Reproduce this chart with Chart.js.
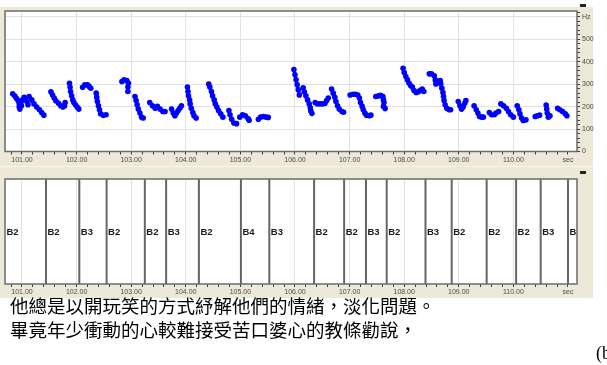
<!DOCTYPE html>
<html>
<head>
<meta charset="utf-8">
<script src="https://cdn.jsdelivr.net/npm/chart.js@4"></script>
<style>
  html, body { margin: 0; padding: 0; background: #fff; width: 607px; height: 365px; overflow: hidden; position: relative; }
  canvas { position: absolute; left: 0; }
  #pitchCanvas { top: 0; }
  #tierCanvas { top: 168px; }
  .caption { position: absolute; left: 10px; font-family: "Noto Sans CJK TC", "Noto Sans CJK SC", sans-serif; font-size: 18.5px; line-height: 1; color: #000; white-space: nowrap; }
  .fig { position: absolute; font-family: "Liberation Serif", serif; font-size: 17px; line-height: 17px; color: #000; white-space: nowrap; }
  .btn { position: absolute; width: 6px; height: 3px; background: #222; }
</style>
</head>
<body>
<div class="fig" style="left:296px; top:-14px;">(a)</div>
<canvas id="pitchCanvas" width="607" height="168"></canvas>
<canvas id="tierCanvas" width="607" height="130"></canvas>
<div class="btn" style="left:580px; top:4px;"></div>
<div class="btn" style="left:580px; top:171px;"></div>
<div class="caption" style="top:296px;">他總是以開玩笑的方式紓解他們的情緒，淡化問題。</div>
<div class="caption" style="top:320px;">畢竟年少衝動的心較難接受苦口婆心的教條勸說，</div>
<div class="fig" style="left:596px; top:344px; font-size:18px; line-height:18px;">(b)</div>

<script>
// ---- time axis (seconds) ----
const timeRange = [100.689, 111.165];
const secondTicks = [101, 102, 103, 104, 105, 106, 107, 108, 109, 110];
const timeUnitLabel = 'sec';
const timeUnitAt = 111;

// ---- frequency axis (Hz) ----
const hzRange = [0, 626];
const hzTicks = [0, 100, 200, 300, 400, 500];
const hzUnitLabel = 'Hz';
const hzUnitAt = 600;

// ---- pitch track: voiced stretches of [time s, F0 Hz] ----
const pitchTrack = [
  [[100.83,257],[100.87,247],[100.90,236],[100.93,226],[100.95,212],[100.95,198],[100.96,189],[100.99,204],[101.01,230],[101.04,242],[101.06,236],[101.09,223],[101.11,208]],
  [[101.13,245],[101.18,230],[101.22,212],[101.27,198],[101.32,186],[101.36,174],[101.40,162]],
  [[101.53,266],[101.56,252],[101.59,238],[101.62,226],[101.67,215],[101.71,204],[101.75,198],[101.78,204],[101.79,218]],
  [[101.87,304],[101.88,287],[101.89,267],[101.91,248],[101.93,230],[101.95,218],[101.98,208],[102.01,198],[102.04,189]],
  [[102.11,286],[102.15,297],[102.20,297],[102.23,290],[102.26,282]],
  [[102.36,260],[102.37,241],[102.38,223],[102.40,204],[102.42,186],[102.44,168],[102.49,161],[102.54,164]],
  [[102.83,312],[102.87,319],[102.92,316],[102.95,304],[102.94,287]],
  [[102.94,267]],
  [[103.07,245],[103.09,227],[103.11,208],[103.13,189],[103.16,171],[103.19,153],[103.22,149]],
  [[103.34,218],[103.39,204],[103.44,193],[103.48,201],[103.53,189],[103.58,178],[103.62,178]],
  [[103.74,189],[103.77,171],[103.80,159],[103.83,171],[103.86,183],[103.89,193],[103.92,204]],
  [[104.03,287],[104.04,267],[104.05,248],[104.07,230],[104.08,212],[104.10,193],[104.13,174],[104.15,159],[104.19,149]],
  [[104.42,301],[104.44,287],[104.47,267],[104.49,248],[104.52,230],[104.54,212],[104.57,198],[104.60,183],[104.64,168],[104.68,153]],
  [[104.79,183],[104.81,164],[104.84,144],[104.88,127],[104.93,124]],
  [[104.99,153],[105.04,164],[105.09,159],[105.14,147],[105.16,139]],
  [[105.33,144],[105.37,153],[105.42,156],[105.47,153],[105.51,152]],
  [[105.98,365],[106.00,342],[106.02,320],[106.04,297],[106.06,275],[106.08,252]],
  [[106.15,284],[106.17,266],[106.20,248],[106.23,230],[106.26,212],[106.28,195],[106.29,181],[106.31,170]],
  [[106.37,218],[106.41,212],[106.46,212],[106.51,212],[106.55,215],[106.58,227],[106.61,238]],
  [[106.67,278],[106.70,260],[106.73,242],[106.75,223],[106.78,204],[106.81,189],[106.86,178],[106.89,175]],
  [[107.01,252],[107.06,255],[107.11,255],[107.15,252],[107.18,238],[107.20,218],[107.23,201],[107.25,186],[107.28,171],[107.31,162],[107.36,159],[107.39,162]],
  [[107.48,245],[107.53,248],[107.57,250],[107.61,245],[107.62,230],[107.63,218]],
  [[107.62,201],[107.65,192]],
  [[107.98,371],[108.00,352],[108.03,334],[108.06,319],[108.09,304],[108.12,293],[108.15,287],[108.18,272],[108.22,263],[108.26,266],[108.29,272],[108.33,278],[108.36,267]],
  [[108.46,346],[108.50,346],[108.55,337],[108.57,319],[108.58,301]],
  [[108.66,316],[108.67,301],[108.69,282],[108.71,263],[108.72,245],[108.73,227],[108.75,208],[108.78,193],[108.82,186],[108.85,186]],
  [[108.99,223],[109.02,204],[109.05,189],[109.08,198],[109.11,215],[109.13,227]],
  [[109.28,204],[109.32,186],[109.35,171],[109.38,156],[109.42,153],[109.45,153]],
  [[109.56,174],[109.60,164],[109.65,164],[109.68,171],[109.73,178]],
  [[109.77,212],[109.82,204],[109.87,193],[109.91,178],[109.95,164],[110.00,153]],
  [[110.07,204],[110.10,186],[110.12,168],[110.15,149],[110.18,138],[110.23,141]],
  [[110.40,156],[110.44,159],[110.48,162]],
  [[110.60,207],[110.61,189],[110.62,171],[110.64,153],[110.67,159]],
  [[110.81,193],[110.85,186],[110.90,178],[110.95,168],[110.98,159]]
];

// ---- break-index tier ----
const tierBoundaries = [101.44, 102.05, 102.55, 103.25, 103.64, 104.24, 105.01, 105.53, 106.35, 106.90, 107.30, 107.68, 108.39, 108.87, 109.51, 110.05, 110.50, 111.00];
const tierLabels = ['B2', 'B2', 'B3', 'B2', 'B2', 'B3', 'B2', 'B4', 'B3', 'B2', 'B2', 'B3', 'B2', 'B3', 'B2', 'B2', 'B2', 'B3', 'B2'];

// ---- styling ----
const PANEL = '#ECE9D8';
const GRID = '#E2E2E2';
const FRAME = '#6b6b6b';
const TICK = '#3a3a3a';
const AXIS_FONT = { family: 'Liberation Sans', size: 7 };

const isWhole = v => Math.abs(v - Math.round(v)) < 1e-6;

// minor ticks every 0.2 s across the visible window
const timeMinor = [];
for (let k = Math.ceil(timeRange[0] * 5); k <= Math.floor(timeRange[1] * 5); k++) timeMinor.push(k / 5);
// minor ticks every 20 Hz
const hzMinor = [];
for (let k = 0; k * 20 <= hzRange[1]; k++) hzMinor.push(k * 20);

function timeAxis() {
  return {
    type: 'linear', position: 'bottom',
    min: timeRange[0], max: timeRange[1],
    afterBuildTicks: s => { s.ticks = timeMinor.map(v => ({ value: v })); },
    afterFit: s => { s.height = 12; },
    border: { display: false },
    grid: {
      color: c => (c.tick && isWhole(c.tick.value) && secondTicks.includes(Math.round(c.tick.value))) ? GRID : 'rgba(0,0,0,0)',
      tickColor: TICK, tickLength: 3, lineWidth: 1, drawTicks: true
    },
    ticks: {
      autoSkip: false, maxRotation: 0, minRotation: 0, padding: 1,
      color: '#4a4a4a', font: AXIS_FONT,
      callback: v => {
        if (!isWhole(v)) return '';
        const r = Math.round(v);
        if (secondTicks.includes(r)) return r.toFixed(2);
        if (r === timeUnitAt) return timeUnitLabel;
        return '';
      }
    }
  };
}

// beige window panel behind each chart, white plotting area and its frame
function panelPlugin(bgTop, bgRight) {
  return {
    id: 'panel',
    beforeDraw(chart) {
      const c = chart.ctx, a = chart.chartArea;
      c.save();
      c.fillStyle = '#fff';
      c.fillRect(0, 0, chart.width, chart.height);
      c.fillStyle = PANEL;
      c.fillRect(0, bgTop, bgRight, chart.height - bgTop);
      c.fillStyle = '#fff';
      c.fillRect(a.left, a.top, a.right - a.left, a.bottom - a.top);
      c.restore();
    },
    afterDraw(chart) {
      const c = chart.ctx, a = chart.chartArea;
      c.save();
      c.strokeStyle = FRAME;
      c.lineWidth = 1.5;
      c.strokeRect(a.left, a.top, a.right - a.left, a.bottom - a.top);
      c.restore();
    }
  };
}

// ---- pitch panel ----
const pitchPoints = [];
pitchTrack.forEach(seg => {
  seg.forEach(([t, hz]) => pitchPoints.push({ x: t, y: hz }));
  pitchPoints.push({ x: seg[seg.length - 1][0], y: null });
});

new Chart(document.getElementById('pitchCanvas'), {
  type: 'line',
  data: {
    datasets: [{
      data: pitchPoints,
      borderColor: '#0000ff',
      backgroundColor: '#0000ff',
      borderWidth: 3.2,
      borderCapStyle: 'round',
      borderJoinStyle: 'round',
      pointRadius: 2.8,
      pointBorderWidth: 0,
      spanGaps: false,
      tension: 0
    }]
  },
  options: {
    responsive: false, animation: false,
    layout: { padding: { left: 5, top: 11, right: 7, bottom: 4.5 } },
    plugins: { legend: { display: false }, tooltip: { enabled: false } },
    scales: {
      x: timeAxis(),
      y: {
        type: 'linear', position: 'right',
        min: hzRange[0], max: hzRange[1],
        afterBuildTicks: s => { s.ticks = hzMinor.map(v => ({ value: v })); },
        afterFit: s => { s.width = 23; },
        border: { display: false },
        grid: {
          color: c => (c.tick && c.tick.value > 0 && c.tick.value % 100 === 0) ? GRID : 'rgba(0,0,0,0)',
          tickColor: TICK, tickLength: 3, lineWidth: 1
        },
        ticks: {
          autoSkip: false, padding: 2, color: '#4a4a4a', font: AXIS_FONT,
          callback: v => v === hzUnitAt ? hzUnitLabel : (hzTicks.includes(v) ? String(v) : '')
        }
      }
    }
  },
  plugins: [panelPlugin(7, 593), {
    id: 'splitter',
    afterDraw(chart) {
      const c = chart.ctx;
      c.save();
      c.fillStyle = '#f7f6f0';
      c.fillRect(0, 166, 593, 1);
      c.restore();
    }
  }]
});

// ---- tier panel ----
const boundaryPoints = [];
tierBoundaries.forEach(b => {
  boundaryPoints.push({ x: b, y: 0 }, { x: b, y: 1 }, { x: b, y: null });
});
const tierStarts = [timeRange[0]].concat(tierBoundaries);

const tierText = {
  id: 'tierText',
  afterDatasetsDraw(chart) {
    const c = chart.ctx, a = chart.chartArea;
    const xs = chart.scales.x, ys = chart.scales.y;
    c.save();
    c.beginPath();
    c.rect(a.left, a.top, a.right - a.left, a.bottom - a.top);
    c.clip();
    c.fillStyle = '#1a1a1a';
    c.font = 'bold 9.5px "Liberation Sans"';
    c.textBaseline = 'middle';
    c.textAlign = 'left';
    tierLabels.forEach((lab, i) => {
      c.fillText(lab, xs.getPixelForValue(tierStarts[i]) + 1.5, ys.getPixelForValue(0.5) + 0.5);
    });
    c.restore();
  }
};

new Chart(document.getElementById('tierCanvas'), {
  type: 'line',
  data: {
    datasets: [{
      data: boundaryPoints,
      borderColor: '#666666',
      borderWidth: 2,
      pointRadius: 0,
      spanGaps: false
    }]
  },
  options: {
    responsive: false, animation: false,
    layout: { padding: { left: 5, top: 11, right: 30, bottom: 2 } },
    plugins: { legend: { display: false }, tooltip: { enabled: false } },
    scales: {
      x: timeAxis(),
      y: { type: 'linear', min: 0, max: 1, display: false }
    }
  },
  plugins: [panelPlugin(0, 593), tierText]
});
</script>
</body>
</html>
